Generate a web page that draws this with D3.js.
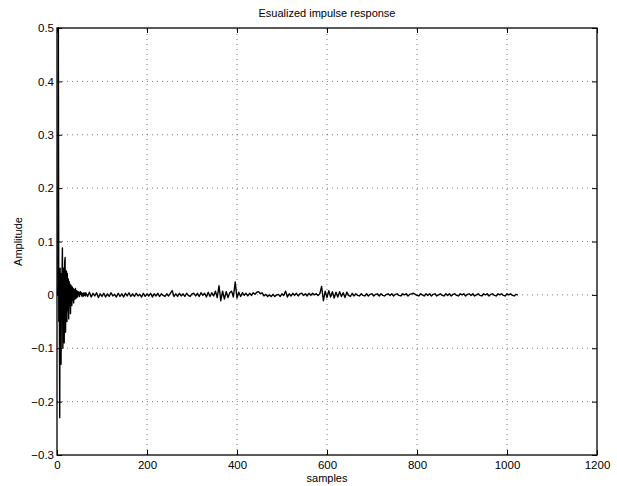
<!DOCTYPE html>
<html><head><meta charset="utf-8">
<script src="https://cdn.jsdelivr.net/npm/d3@7"></script>
<style>body{margin:0;background:#fff}svg{display:block}text{font-family:"Liberation Sans",Arial,sans-serif;fill:#000}</style>
</head><body>
<script>
// ---- data ----
const title = "Esualized impulse response";
const xLabel = "samples";
const yLabel = "Amplitude";
const xTicks = [0, 200, 400, 600, 800, 1000, 1200];
const yTicks = [-0.3, -0.2, -0.1, 0, 0.1, 0.2, 0.3, 0.4, 0.5];
// samples 0..63, one value per sample
const earlyValues = [
  0, 0.0, 0.02, 0.5, -0.05, 0.03, -0.23, 0.05, -0.06, -0.13, 0.04, 0.03,
  0.088, -0.1, 0.02, 0.05, -0.09, 0.06, 0.07, -0.07, 0.03, 0.045, -0.05, 0.04,
  -0.03, 0.03, -0.045, 0.025, -0.02, 0.02, -0.035, 0.018, 0.01, -0.02, 0.015, -0.01,
  0.012, -0.015, 0.008, 0.01, -0.008, 0.012, 0.004, -0.006, 0.008, 0.003, -0.004, 0.006,
  0.002, 0.005, -0.003, 0.004, 0.006, 0.001, 0.004, -0.002, 0.003, 0.0, -0.003, 0.002,
  0.004, -0.001, 0.002, -0.002
];
// samples 64..1024, one value every 4 samples
const tailStart = 64, tailStep = 4;
const tailValues = [
  0.004, -0.003, 0.005, -0.004, 0.003, -0.002, 0.004, -0.005, 0.002, -0.003,   // 64-100
  0.003, -0.004, 0.002, -0.003, 0.004, -0.002, 0.001, -0.004, 0.003, -0.003,   // 104-140
  0.002, -0.004, 0.003, -0.002, 0.004, -0.003, 0.002, -0.003, 0.003, -0.002,   // 144-180
  0.001, -0.004, 0.003, -0.003, 0.002, -0.002, 0.003, -0.004, 0.002, -0.002,   // 184-220
  0.003, -0.003, 0.002, -0.001, -0.003, 0.002, -0.002, 0.003, 0.008, -0.003,   // 224-260
  0.002, -0.003, 0.003, -0.002, 0.002, -0.003, 0.003, -0.001, -0.003, 0.002,   // 264-300
  0.003, -0.002, 0.003, -0.003, 0.004, -0.001, 0.003, -0.004, 0.005, -0.003,   // 304-340
  0.004, -0.002, 0.007, -0.005, 0.017, -0.011, 0.007, -0.008, 0.006, -0.005,  // 344-380
  0.004, 0.007, -0.004, 0.024, -0.006, 0.005, -0.003, 0.004, -0.001, 0.003,    // 384-420
  -0.002, 0.003, -0.001, 0.004, 0.001, 0.005, 0.006, 0.002, 0.004, -0.002,     // 424-460
  0.001, -0.003, 0.000, -0.003, 0.001, -0.003, 0.000, 0.001, -0.003, 0.002,    // 464-500
  -0.001, 0.007, -0.004, 0.002, -0.002, 0.003, -0.001, 0.003, -0.002, 0.002,   // 504-540
  0.003, -0.001, 0.002, -0.002, 0.003, -0.001, 0.003, 0.000, 0.002, -0.001,    // 544-580
  0.002, 0.016, -0.011, 0.007, -0.005, 0.008, -0.004, 0.006, -0.006, 0.005,    // 584-620
  -0.004, 0.006, -0.003, 0.004, -0.005, 0.005, -0.001, -0.003, 0.003, -0.002,  // 624-660
  0.002, -0.001, -0.002, 0.002, -0.001, -0.002, 0.002, -0.002, 0.001, 0.002,   // 664-700
  -0.002, 0.001, 0.002, -0.002, 0.002, -0.001, -0.002, 0.001, 0.002, -0.001,   // 704-740
  0.002, -0.002, 0.001, 0.002, -0.001, -0.002, 0.002, 0.000, 0.002, -0.002,    // 744-780
  0.001, 0.002, 0.003, 0.001, -0.001, -0.002, 0.002, 0.000, -0.002, 0.002,     // 784-820
  -0.001, 0.002, -0.002, 0.001, 0.002, -0.002, 0.000, 0.002, -0.001, -0.002,   // 824-860
  0.002, -0.001, 0.002, -0.002, 0.001, 0.002, -0.001, -0.002, 0.002, 0.000,    // 864-900
  0.002, -0.002, 0.001, 0.002, -0.001, 0.002, -0.002, 0.000, 0.002, -0.001,    // 904-940
  -0.002, 0.002, 0.000, 0.002, -0.002, 0.001, 0.002, -0.001, -0.002, 0.002,    // 944-980
  0.000, 0.002, -0.001, -0.002, 0.002, 0.000, 0.002, -0.001, -0.002, 0.001,    // 984-1020
  0.000                                                                          // 1024
];

// ---- build points ----
const points = earlyValues.map((v, i) => [i, v])
  .concat(tailValues.map((v, i) => [tailStart + i * tailStep, v]));

const W = 617, H = 486;
const m = {left: 57, right: 20, top: 28, bottom: 31};
const svg = d3.select("body").append("svg").attr("width", W).attr("height", H);
const x = d3.scaleLinear().domain([0, 1200]).range([m.left, W - m.right]);
const y = d3.scaleLinear().domain([-0.3, 0.5]).range([H - m.bottom, m.top]);

// grid
const grid = svg.append("g").attr("stroke", "#555").attr("stroke-width", 0.8).attr("stroke-dasharray", "1,4");
grid.selectAll(".gx").data(xTicks.slice(1, -1)).join("line")
  .attr("x1", d => x(d)).attr("x2", d => x(d)).attr("y1", y(-0.3)).attr("y2", y(0.5));
grid.selectAll(".gy").data(yTicks.slice(1, -1)).join("line")
  .attr("y1", d => y(d)).attr("y2", d => y(d)).attr("x1", x(0)).attr("x2", x(1200));

// line
const line = d3.line().x(d => x(d[0])).y(d => y(d[1]));
svg.append("path").datum(points).attr("d", line)
  .attr("fill", "none").attr("stroke", "#000").attr("stroke-width", 1.4).attr("stroke-linejoin", "round");

// axes (ticks inside, box)
const fmt = d => d3.format("")(d);
const yfmt = d => d === 0 ? "0" : d3.format(".1f")(d).replace("-", "\u2212");
svg.append("g").attr("transform", `translate(0,${y(-0.3)})`)
  .call(d3.axisBottom(x).tickValues(xTicks).tickSize(-5).tickPadding(6).tickFormat(fmt))
  .call(g => g.select(".domain").remove());
svg.append("g").attr("transform", `translate(0,${y(0.5)})`)
  .call(d3.axisTop(x).tickValues(xTicks).tickSize(-5).tickFormat(""))
  .call(g => g.select(".domain").remove());
svg.append("g").attr("transform", `translate(${x(0)},0)`)
  .call(d3.axisLeft(y).tickValues(yTicks).tickSize(-5).tickPadding(3).tickFormat(yfmt))
  .call(g => g.select(".domain").remove());
svg.append("g").attr("transform", `translate(${x(1200)},0)`)
  .call(d3.axisRight(y).tickValues(yTicks).tickSize(-5).tickFormat(""))
  .call(g => g.select(".domain").remove());
svg.selectAll(".tick text").attr("font-size", 11.5).attr("font-family", "Liberation Sans, Arial, sans-serif");
svg.selectAll(".tick line").attr("stroke", "#000");
svg.append("rect").attr("x", x(0)).attr("y", y(0.5)).attr("width", x(1200) - x(0)).attr("height", y(-0.3) - y(0.5))
  .attr("fill", "none").attr("stroke", "#000").attr("stroke-width", 1.3);

// labels
svg.append("text").attr("x", (x(0) + x(1200)) / 2).attr("y", 17).attr("text-anchor", "middle").attr("font-size", 11).text(title);
svg.append("text").attr("x", (x(0) + x(1200)) / 2).attr("y", 482).attr("text-anchor", "middle").attr("font-size", 11).text(xLabel);
svg.append("text").attr("transform", `translate(22,${(y(0.5) + y(-0.3)) / 2}) rotate(-90)`).attr("text-anchor", "middle").attr("font-size", 11).text(yLabel);
</script>
</body></html>
